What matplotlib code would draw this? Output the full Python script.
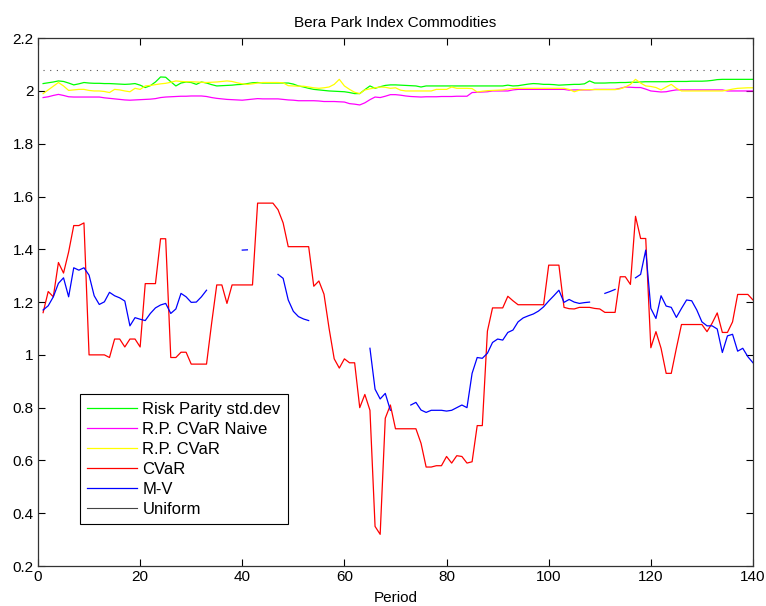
import numpy as np
import matplotlib
matplotlib.use("Agg")
import matplotlib.pyplot as plt

nan = np.nan

periods = list(range(1, 141))

risk_parity_std = [
    2.028, 2.031, 2.034, 2.038, 2.036, 2.030, 2.023, 2.027, 2.032, 2.030,
    2.029, 2.029, 2.028, 2.028, 2.027, 2.026, 2.025, 2.026, 2.028, 2.022,
    2.013, 2.020, 2.034, 2.053, 2.052, 2.035, 2.019, 2.030, 2.034, 2.032,
    2.025, 2.034, 2.030, 2.024, 2.019, 2.020, 2.021, 2.022, 2.024, 2.025,
    2.028, 2.031, 2.032, 2.030, 2.030, 2.030, 2.030, 2.030, 2.030, 2.026,
    2.019, 2.015, 2.010, 2.006, 2.004, 2.002, 2.000, 1.999, 1.998, 1.997,
    1.994, 1.990, 1.990, 2.005, 2.019, 2.010, 2.016, 2.021, 2.023, 2.023,
    2.022, 2.021, 2.020, 2.019, 2.015, 2.019, 2.019, 2.019, 2.019, 2.019,
    2.019, 2.019, 2.019, 2.019, 2.019, 2.019, 2.019, 2.019, 2.019, 2.019,
    2.019, 2.022, 2.019, 2.020, 2.023, 2.026, 2.028, 2.027, 2.025, 2.025,
    2.024, 2.022, 2.023, 2.024, 2.025, 2.025, 2.027, 2.038, 2.030, 2.030,
    2.030, 2.031, 2.031, 2.032, 2.032, 2.033, 2.033, 2.034, 2.035, 2.035,
    2.035, 2.035, 2.035, 2.036, 2.036, 2.036, 2.036, 2.037, 2.037, 2.037,
    2.038, 2.040, 2.043, 2.044, 2.044, 2.044, 2.044, 2.044, 2.044, 2.044,
]

rp_cvar_naive = [
    1.975, 1.978, 1.983, 1.987, 1.983, 1.978, 1.977, 1.977, 1.977, 1.977,
    1.977, 1.977, 1.974, 1.972, 1.970, 1.968, 1.966, 1.965, 1.966, 1.967,
    1.968, 1.969, 1.971, 1.975, 1.977, 1.978, 1.979, 1.980, 1.980, 1.981,
    1.981, 1.981, 1.979, 1.975, 1.972, 1.970, 1.968, 1.967, 1.966, 1.965,
    1.967, 1.969, 1.971, 1.970, 1.970, 1.970, 1.970, 1.968, 1.966, 1.965,
    1.963, 1.963, 1.963, 1.963, 1.962, 1.960, 1.960, 1.960, 1.959, 1.958,
    1.952, 1.950, 1.947, 1.955, 1.967, 1.977, 1.975, 1.980, 1.986, 1.986,
    1.984, 1.981, 1.979, 1.978, 1.977, 1.978, 1.978, 1.978, 1.979, 1.979,
    1.979, 1.980, 1.980, 1.980, 1.994, 1.995, 1.996, 1.997, 2.000, 2.000,
    2.000, 2.000, 2.004, 2.006, 2.006, 2.006, 2.006, 2.006, 2.006, 2.006,
    2.006, 2.006, 2.006, 2.003, 2.004, 2.004, 2.004, 2.004, 2.006, 2.006,
    2.006, 2.006, 2.006, 2.010, 2.015, 2.014, 2.013, 2.013, 2.007, 2.000,
    1.998, 1.996, 1.997, 2.001, 2.004, 2.004, 2.004, 2.004, 2.004, 2.004,
    2.004, 2.004, 2.004, 2.004, 2.000, 2.000, 2.000, 2.000, 2.000, 2.000,
]

rp_cvar = [
    1.990, 2.004, 2.018, 2.032, 2.019, 2.002, 2.004, 2.006, 2.006, 2.002,
    2.000, 2.000, 1.998, 1.994, 2.006, 2.004, 2.000, 1.997, 2.010, 2.006,
    2.019, 2.021, 2.024, 2.027, 2.029, 2.033, 2.038, 2.036, 2.035, 2.035,
    2.034, 2.033, 2.032, 2.033, 2.034, 2.036, 2.038, 2.036, 2.031, 2.027,
    2.025, 2.027, 2.030, 2.032, 2.032, 2.032, 2.032, 2.031, 2.020, 2.019,
    2.018, 2.018, 2.015, 2.012, 2.010, 2.012, 2.015, 2.025, 2.044, 2.019,
    2.006, 1.995, 1.990, 2.004, 2.008, 2.012, 2.015, 2.014, 2.010, 2.012,
    2.003, 2.000, 2.000, 2.000, 2.000, 2.000, 2.000, 2.006, 2.006, 2.006,
    2.015, 2.010, 2.010, 2.010, 2.009, 1.996, 1.999, 2.001, 2.002, 2.003,
    2.004, 2.007, 2.009, 2.010, 2.010, 2.010, 2.010, 2.010, 2.010, 2.010,
    2.010, 2.010, 2.010, 2.006, 1.997, 2.003, 2.005, 2.005, 2.005, 2.005,
    2.005, 2.005, 2.005, 2.008, 2.015, 2.025, 2.044, 2.030, 2.019, 2.017,
    2.013, 2.004, 2.015, 2.025, 2.010, 2.000, 2.000, 2.000, 2.000, 2.000,
    2.000, 2.000, 2.000, 2.000, 2.003, 2.007, 2.010, 2.011, 2.012, 2.012,
]

cvar = [
    1.16, 1.24, 1.22, 1.35, 1.31, 1.39, 1.49, 1.49, 1.50, 1.00,
    1.00, 1.00, 1.00, 0.99, 1.06, 1.06, 1.03, 1.06, 1.06, 1.03,
    1.27, 1.27, 1.27, 1.44, 1.44, 0.99, 0.99, 1.01, 1.01, 0.965,
    0.965, 0.965, 0.965, 1.12, 1.265, 1.265, 1.195, 1.265, 1.265, 1.265,
    1.265, 1.265, 1.575, 1.575, 1.575, 1.575, 1.55, 1.50, 1.41, 1.41,
    1.41, 1.41, 1.41, 1.26, 1.28, 1.23, 1.10, 0.985, 0.95, 0.985,
    0.97, 0.97, 0.80, 0.85, 0.79, 0.35, 0.32, 0.76, 0.81, 0.72,
    0.72, 0.72, 0.72, 0.72, 0.665, 0.575, 0.575, 0.58, 0.58, 0.615,
    0.59, 0.618, 0.615, 0.59, 0.595, 0.732, 0.732, 1.09, 1.178, 1.178,
    1.178, 1.222, 1.205, 1.19, 1.19, 1.19, 1.19, 1.19, 1.19, 1.34,
    1.34, 1.34, 1.18, 1.175, 1.174, 1.18, 1.18, 1.18, 1.176, 1.174,
    1.161, 1.161, 1.161, 1.296, 1.296, 1.267, 1.525, 1.441, 1.441, 1.027,
    1.088, 1.025, 0.93, 0.93, 1.025, 1.115, 1.115, 1.115, 1.115, 1.115,
    1.088, 1.12, 1.159, 1.085, 1.085, 1.125, 1.229, 1.229, 1.229, 1.208,
]

mean_variance = [
    1.17, 1.186, 1.22, 1.271, 1.292, 1.22, 1.33, 1.321, 1.33, 1.302,
    1.224, 1.191, 1.201, 1.237, 1.224, 1.216, 1.204, 1.11, 1.141, 1.135,
    1.13, 1.157, 1.178, 1.189, 1.195, 1.157, 1.174, 1.233, 1.22, 1.199,
    1.2, 1.22, 1.245, nan, nan, nan, nan, nan, nan, 1.397,
    1.398, nan, nan, nan, nan, nan, 1.305, 1.29, 1.208, 1.165,
    1.145, 1.136, 1.13, nan, nan, nan, nan, nan, nan, nan,
    nan, nan, nan, nan, 1.025, 0.87, 0.833, 0.854, 0.79, nan,
    nan, nan, 0.81, 0.82, 0.791, 0.782, 0.79, 0.79, 0.79, 0.787,
    0.79, 0.80, 0.81, 0.80, 0.93, 0.99, 0.987, 1.006, 1.047, 1.06,
    1.056, 1.085, 1.094, 1.125, 1.14, 1.148, 1.155, 1.166, 1.182, 1.204,
    1.224, 1.245, 1.199, 1.21, 1.2, 1.195, 1.198, 1.2, nan, nan,
    1.233, 1.24, 1.248, nan, nan, nan, 1.292, 1.305, 1.397, 1.176,
    1.138, 1.224, 1.185, 1.18, 1.142, 1.176, 1.208, 1.205, 1.17, 1.125,
    1.11, 1.11, 1.098, 1.009, 1.072, 1.078, 1.014, 1.025, 0.993, 0.97,
]

uniform_level = 2.08

series_labels = ["Risk Parity std.dev", "R.P. CVaR Naive", "R.P. CVaR",
                 "CVaR", "M-V", "Uniform"]
x_ticks = [0, 20, 40, 60, 80, 100, 120, 140]
y_ticks = [0.2, 0.4, 0.6, 0.8, 1.0, 1.2, 1.4, 1.6, 1.8, 2.0, 2.2]
y_tick_labels = ["0.2", "0.4", "0.6", "0.8", "1", "1.2", "1.4", "1.6", "1.8", "2", "2.2"]

plt.rcParams["font.family"] = ["Liberation Sans", "DejaVu Sans"]

fig = plt.figure(figsize=(7.66, 6.06), dpi=100)
ax = fig.add_axes([0.0496, 0.066, 0.9334, 0.871])

lw = 0.9
ax.plot(periods, risk_parity_std, color="#00ff00", lw=lw, label=series_labels[0])
ax.plot(periods, rp_cvar_naive, color="#ff00ff", lw=lw, label=series_labels[1])
ax.plot(periods, rp_cvar, color="#ffff00", lw=lw, label=series_labels[2])
ax.plot(periods, cvar, color="#ff0000", lw=lw, label=series_labels[3])
ax.plot(periods, mean_variance, color="#0000ff", lw=lw, label=series_labels[4])
ax.plot(periods, np.full(len(periods), uniform_level), color="#555555", lw=0.8,
        linestyle=(0, (1, 5)), label=series_labels[5])

ax.set_xlim(0, 140)
ax.set_ylim(0.2, 2.2)
ax.set_xticks(x_ticks)
ax.set_xticklabels([str(v) for v in x_ticks])
ax.set_yticks(y_ticks)
ax.set_yticklabels(y_tick_labels)
ax.tick_params(direction="in", length=5, width=0.8, top=True, right=True,
               labelsize=11, pad=3, colors="#000000")
for sp in ax.spines.values():
    sp.set_linewidth(0.9)
    sp.set_color("#333333")

ax.set_title("Bera Park Index Commodities", fontsize=11, pad=8)
ax.set_xlabel("Period", fontsize=11, labelpad=5)

handles, labels = ax.get_legend_handles_labels()
leg = ax.legend(handles, labels, loc="lower left", bbox_to_anchor=(0.0587, 0.0795),
                fontsize=12, frameon=True, fancybox=False, shadow=False,
                framealpha=1, edgecolor="#000000", handlelength=3.0,
                handletextpad=0.3, labelspacing=0.3, borderpad=0.45,
                borderaxespad=0)
leg.get_frame().set_linewidth(0.8)
leg.legend_handles[-1].set_linestyle("-")
leg.legend_handles[-1].set_color("#444444")

fig.savefig("out.png", dpi=100, facecolor="white")
